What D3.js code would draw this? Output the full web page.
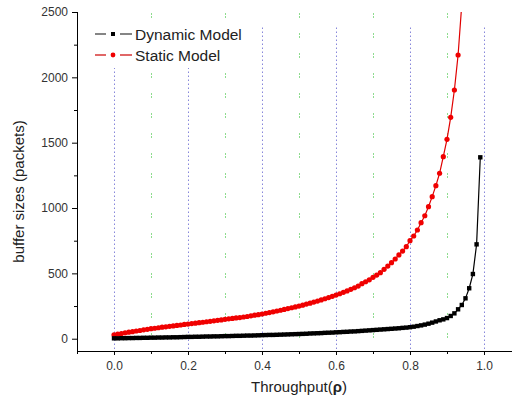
<!DOCTYPE html>
<html>
<head>
<meta charset="utf-8">
<script src="https://cdn.jsdelivr.net/npm/d3@7"></script>
<style>
  body { margin: 0; background: #fff; }
  svg { display: block; font-family: "Liberation Sans", Arial, sans-serif; }
</style>
</head>
<body>
<div id="chart"></div>
<script>
// throughput samples (rho)
const rho = [
  0.00,0.01,0.02,0.03,0.04,0.05,0.06,0.07,0.08,0.09,
  0.10,0.11,0.12,0.13,0.14,0.15,0.16,0.17,0.18,0.19,
  0.20,0.21,0.22,0.23,0.24,0.25,0.26,0.27,0.28,0.29,
  0.30,0.31,0.32,0.33,0.34,0.35,0.36,0.37,0.38,0.39,
  0.40,0.41,0.42,0.43,0.44,0.45,0.46,0.47,0.48,0.49,
  0.50,0.51,0.52,0.53,0.54,0.55,0.56,0.57,0.58,0.59,
  0.60,0.61,0.62,0.63,0.64,0.65,0.66,0.67,0.68,0.69,
  0.70,0.71,0.72,0.73,0.74,0.75,0.76,0.77,0.78,0.79,
  0.80,0.81,0.82,0.83,0.84,0.85,0.86,0.87,0.88,0.89,
  0.90,0.91,0.92,0.93,0.94,0.95,0.96,0.97,0.98,0.99
];

// Dynamic Model buffer sizes (packets), one per rho
const dynamicModel = [
  3,3,4,4,5,5,6,6,7,7,
  8,8,9,9,10,10,11,11,12,13,
  14,14,15,15,16,17,17,18,18,19,
  20,20,21,22,22,23,24,24,25,26,
  27,28,29,29,30,31,32,33,34,35,
  36,37,38,40,41,42,43,45,46,47,
  49,50,52,53,55,56,58,60,62,64,
  66,68,70,72,74,76,78,80,83,85,
  88,92,97,102,108,115,123,132,141,148,
  158,174,194,225,258,309,386,495,722,1388
];

// Static Model buffer sizes (packets), rho 0.00 .. 0.94
const staticModel = [
  30,35,40,45,50,54,59,63,68,72,
  77,80,84,88,91,95,98,102,105,109,
  112,116,119,123,126,130,133,137,141,144,
  148,152,155,159,162,166,170,175,180,184,
  189,195,200,206,212,218,224,231,237,243,
  250,257,265,272,280,288,297,306,315,324,
  334,344,355,366,378,390,403,421,436,451,
  470,487,505,531,556,582,610,641,671,704,
  750,786,832,888,941,1010,1087,1171,1266,1393,
  1526,1694,1903,2171,2560
];

const yMajor = [0, 500, 1000, 1500, 2000, 2500];
const yMinor = [250, 750, 1250, 1750, 2250];
const xMajor = [0.0, 0.2, 0.4, 0.6, 0.8, 1.0];
const xMinor = [-0.1, 0.1, 0.3, 0.5, 0.7, 0.9];

const W = 512, H = 400;
const pLeft = 77, pRight = 512, pTop = 12, pBottom = 351;

const svg = d3.select("#chart").append("svg")
  .attr("width", W)
  .attr("height", H);

svg.append("rect").attr("width", W).attr("height", H).attr("fill", "#fff");

const x = d3.scaleLinear().domain([-0.1, 1.0757]).range([pLeft, pRight]);
const y = d3.scaleLinear().domain([-94, 2500]).range([pBottom, pTop]);

svg.append("defs").append("clipPath").attr("id", "plot")
  .append("rect")
  .attr("x", pLeft).attr("y", pTop)
  .attr("width", pRight - pLeft).attr("height", pBottom - pTop);

// grid lines: blue dotted at major x ticks, green dashed at minor ones
svg.append("g").selectAll("line")
  .data(xMajor)
  .join("line")
  .attr("x1", d => x(d) + 0.5).attr("x2", d => x(d) + 0.5)
  .attr("y1", y(2380)).attr("y2", pBottom)
  .attr("stroke", "#4a4ac8")
  .attr("stroke-width", 1)
  .attr("stroke-dasharray", "1,3");

svg.append("g").selectAll("line")
  .data(xMinor.filter(d => d > 0))
  .join("line")
  .attr("x1", d => x(d) + 0.5).attr("x2", d => x(d) + 0.5)
  .attr("y1", pTop + 1).attr("y2", pBottom)
  .attr("stroke", "#8edc8e")
  .attr("stroke-width", 1)
  .attr("stroke-dasharray", "2,1,2,15");

// legend background hides grid behind it
svg.append("rect")
  .attr("x", 88).attr("y", 22)
  .attr("width", 164).attr("height", 46)
  .attr("fill", "#fff");

// curves
const line = d3.line()
  .x(d => x(d[0]))
  .y(d => y(d[1]));

const plot = svg.append("g").attr("clip-path", "url(#plot)");

const dynPts = rho.map((r, i) => [r, dynamicModel[i]]);
const statPts = staticModel.map((v, i) => [rho[i], v]);

plot.append("path")
  .datum(statPts)
  .attr("fill", "none")
  .attr("stroke", "#e00000")
  .attr("stroke-width", 1.2)
  .attr("d", line);

plot.selectAll("circle.stat")
  .data(statPts)
  .join("circle")
  .attr("class", "stat")
  .attr("cx", d => x(d[0]))
  .attr("cy", d => y(d[1]))
  .attr("r", 2.6)
  .attr("fill", "#f00000");

plot.append("path")
  .datum(dynPts)
  .attr("fill", "none")
  .attr("stroke", "#000")
  .attr("stroke-width", 1.2)
  .attr("d", line);

plot.selectAll("rect.dyn")
  .data(dynPts)
  .join("rect")
  .attr("class", "dyn")
  .attr("x", d => x(d[0]) - 2.2)
  .attr("y", d => y(d[1]) - 2.2)
  .attr("width", 4.4)
  .attr("height", 4.4)
  .attr("fill", "#000");

// axes
const tickFont = g => g.selectAll("text")
  .attr("fill", "#333")
  .style("font-size", "12px")
  .style("font-family", "\"Liberation Sans\", Arial, sans-serif");

const yAxis = svg.append("g")
  .attr("transform", `translate(${pLeft},0)`)
  .call(d3.axisLeft(y).tickValues(yMajor).tickSize(5).tickPadding(4).tickFormat(d3.format("d")))
  .call(tickFont);
svg.append("g")
  .attr("transform", `translate(${pLeft},0)`)
  .call(d3.axisLeft(y).tickValues(yMinor).tickSize(3).tickFormat(""))
  .call(g => g.select(".domain").remove());

const xAxis = svg.append("g")
  .attr("transform", `translate(0,${pBottom})`)
  .call(d3.axisBottom(x).tickValues(xMajor).tickSize(4).tickPadding(6).tickFormat(d3.format(".1f")))
  .call(tickFont);
svg.append("g")
  .attr("transform", `translate(0,${pBottom})`)
  .call(d3.axisBottom(x).tickValues(xMinor).tickSize(3).tickFormat(""))
  .call(g => g.select(".domain").remove());

[yAxis, xAxis].forEach(g => g.select(".domain").remove());
svg.append("path")
  .attr("d", `M${pLeft + 0.5},${pTop}V${pBottom + 0.5}H${pRight}`)
  .attr("fill", "none")
  .attr("stroke", "#000");

// axis titles
svg.append("text")
  .attr("transform", `translate(24,${(pTop + pBottom) / 2 + 10}) rotate(-90)`)
  .attr("text-anchor", "middle")
  .attr("fill", "#222")
  .style("font-size", "15px")
  .text("buffer sizes (packets)");

const xt = svg.append("text")
  .attr("x", 299)
  .attr("y", 392)
  .attr("text-anchor", "middle")
  .attr("fill", "#222")
  .style("font-size", "15px");
xt.append("tspan").text("Throughput(");
xt.append("tspan").attr("font-weight", "bold").text("ρ");
xt.append("tspan").text(")");

// legend
const legendItems = [
  { name: "Dynamic Model", color: "#000", lineColor: "#333", shape: "square" },
  { name: "Static Model", color: "#f00000", lineColor: "#c00", shape: "circle" }
];

legendItems.forEach((it, i) => {
  const ly = 34 + i * 21;
  const g = svg.append("g");
  g.append("line").attr("x1", 95).attr("x2", 106).attr("y1", ly).attr("y2", ly)
    .attr("stroke", it.lineColor).attr("stroke-width", 1.2);
  g.append("line").attr("x1", 120).attr("x2", 132).attr("y1", ly).attr("y2", ly)
    .attr("stroke", it.lineColor).attr("stroke-width", 1.2);
  if (it.shape === "square") {
    g.append("rect").attr("x", 111).attr("y", ly - 2).attr("width", 4).attr("height", 4).attr("fill", it.color);
  } else {
    g.append("circle").attr("cx", 113).attr("cy", ly).attr("r", 2.4).attr("fill", it.color);
  }
  g.append("text")
    .attr("x", 135)
    .attr("y", ly + 5.5)
    .attr("fill", "#222")
    .style("font-size", "15.5px")
    .text(it.name);
});
</script>
</body>
</html>
